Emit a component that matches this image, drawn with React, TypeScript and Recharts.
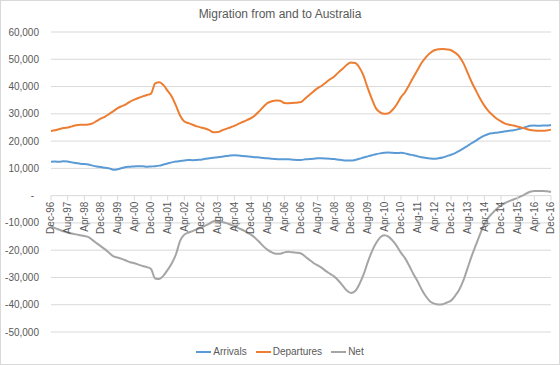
import { CartesianGrid, Legend, Line, LineChart, XAxis, YAxis } from "recharts";

const MONTH_NAMES = ["Jan", "Feb", "Mar", "Apr", "May", "Jun", "Jul", "Aug", "Sep", "Oct", "Nov", "Dec"];

// every second month, Dec-96 .. Dec-16
const periods: string[] = [];
for (let i = 0; i <= 120; i++) {
  const m = 11 + 2 * i;
  const yy = (96 + Math.floor(m / 12)) % 100;
  periods.push(`${MONTH_NAMES[m % 12]}-${String(yy).padStart(2, "0")}`);
}

const arrivals = [
  12400, 12500, 12400, 12600, 12500, 12200, 12000, 11700, 11600, 11400,
  11000, 10700, 10500, 10200, 10000, 9500, 9700, 10100, 10500, 10600,
  10700, 10800, 10800, 10600, 10700, 10800, 11000, 11400, 11800, 12200,
  12500, 12700, 12900, 13100, 13000, 13100, 13200, 13500, 13700, 13900,
  14100, 14300, 14500, 14700, 14800, 14700, 14500, 14400, 14300, 14100,
  14000, 13800, 13700, 13500, 13400, 13300, 13300, 13300, 13200, 13100,
  13100, 13300, 13400, 13500, 13700, 13700, 13600, 13500, 13400, 13200,
  13000, 12900, 12900, 13100, 13500, 14000, 14400, 14800, 15200, 15500,
  15700, 15800, 15700, 15600, 15700, 15500, 15100, 14800, 14400, 14100,
  13800, 13600, 13500, 13700, 14000, 14500, 15000, 15600, 16400, 17300,
  18300, 19300, 20200, 21200, 22000, 22600, 22900, 23100, 23300, 23600,
  23800, 24000, 24300, 24700, 25200, 25600, 25700, 25600, 25700, 25700,
  25900,
];

const departures = [
  23700, 24000, 24400, 24800, 25000, 25400, 25800, 26000, 26000, 26100,
  26500, 27400, 28300, 29000, 30000, 31000, 32100, 32800, 33500, 34500,
  35200, 35800, 36400, 36900, 37400, 41200, 41600, 40500, 38400, 36300,
  33000, 29300, 27200, 26600, 26000, 25400, 25000, 24600, 24000, 23200,
  23300, 23900, 24500, 25000, 25600, 26300, 27000, 27700, 28400, 29500,
  31000, 32600, 34000, 34600, 34900, 34800, 34000, 33900, 34000, 34100,
  34300, 35600, 36900, 38200, 39400, 40300, 41500, 42700, 43700, 45200,
  46500, 48000, 48800, 48600, 47000, 44000, 39500, 35500, 32000, 30500,
  30000, 30200, 31500, 33500, 36100, 38000, 40700, 43500, 46200, 48800,
  50800, 52300, 53300, 53700, 53800, 53600, 53300, 52400, 51000, 48500,
  45000, 41500, 38500, 35500, 33000, 31000, 29500, 28200, 27200, 26400,
  26000, 25700, 25300, 24900, 24500, 24100, 23900, 23800, 23800, 23900,
  24200,
];

const net = [
  -11200, -11900, -12500, -13100, -13600, -13900, -14200, -14500, -14800, -15200,
  -16300, -17500, -18600, -19700, -21000, -22300, -22700, -23200, -23800, -24400,
  -24800, -25300, -25800, -26200, -26900, -30400, -30600, -29300, -27200, -24800,
  -21500, -16500, -14300, -13500, -13000, -12300, -11800, -11000, -10300, -9400,
  -9200, -9600, -10000, -10600, -11200, -11900, -12600, -13400, -14300, -15500,
  -17000, -18600, -19900, -20800, -21300, -21300, -20800, -20600, -20800, -20900,
  -21200, -22300, -23500, -24700, -25600, -26500, -27700, -28700, -29700, -31200,
  -33000, -34800, -35700, -35000, -32500, -29000, -24500, -20500, -17500, -15300,
  -14500, -15000, -16500, -18500, -21000, -23000, -25800, -28800, -31500, -34500,
  -37000, -38800, -39600, -39900, -39800, -39200, -38500, -36700, -34400, -31000,
  -26500, -22000, -18000, -14000, -10500, -8000, -6300, -4800, -3600, -2700,
  -2000, -1400, -800, -100, 700, 1400, 1700, 1700, 1700, 1600,
  1300,
];

const yTicks = [-50000, -40000, -30000, -20000, -10000, 0, 10000, 20000, 30000, 40000, 50000, 60000];
const Y_MIN = -50000;
const Y_MAX = 60000;

const seriesNames = ["Arrivals", "Departures", "Net"];
const seriesColors = ["#5B9BD5", "#ED7D31", "#A5A5A5"];

const data = periods.map((period, i) => ({
  period,
  Arrivals: arrivals[i],
  Departures: departures[i],
  Net: net[i],
}));

const W = 560;
const H = 365;
const X_AXIS_H = 2;
const MARGIN = { top: 32, right: 9, bottom: 31, left: 0 };
const PLOT_H = H - MARGIN.top - MARGIN.bottom - X_AXIS_H;
// horizontal axis crosses at 0
const ZERO_Y = MARGIN.top + (PLOT_H * Y_MAX) / (Y_MAX - Y_MIN);

const FONT = "'Liberation Sans', Arial, sans-serif";
const TEXT = "#595959";
const GRID = "#d9d9d9";

function XTick(props: any) {
  const { x, payload } = props;
  const ty = ZERO_Y + 6;
  return (
    <g>
      <line x1={x} x2={x} y1={ZERO_Y} y2={ZERO_Y + 5} stroke={GRID} />
      <text
        x={x}
        y={ty}
        dy="0.35em"
        transform={`rotate(-90 ${x} ${ty})`}
        textAnchor="end"
        fontSize={10}
        fontFamily={FONT}
        fill={TEXT}
      >
        {payload.value}
      </text>
    </g>
  );
}

function YTick({ x, y, payload }: any) {
  const v = payload.value as number;
  return (
    <text
      x={v === 0 ? x - 5 : x}
      y={y}
      dy="0.355em"
      textAnchor="end"
      fontSize={10}
      fontFamily={FONT}
      fill={TEXT}
    >
      {v === 0 ? "-" : v.toLocaleString("en-US")}
    </text>
  );
}

function LegendContent() {
  return (
    <div
      style={{
        display: "flex",
        justifyContent: "center",
        fontFamily: FONT,
        fontSize: 10,
        lineHeight: "14px",
        color: TEXT,
      }}
    >
      {seriesNames.map((name, i) => (
        <div key={name} style={{ display: "flex", alignItems: "center", marginLeft: i === 0 ? 0 : 9 }}>
          <span style={{ display: "inline-block", width: 15, height: 2, background: seriesColors[i], marginRight: 2 }} />
          <span>{name}</span>
        </div>
      ))}
    </div>
  );
}

export default function App() {
  return (
    <div style={{ position: "absolute", left: 0, top: 0, width: W, height: H, background: "#fff" }}>
      <div
        style={{
          position: "absolute",
          top: 6,
          left: 0,
          width: W,
          textAlign: "center",
          fontFamily: FONT,
          fontSize: 12,
          lineHeight: "16px",
          color: TEXT,
        }}
      >
        Migration from and to Australia
      </div>
      <LineChart width={W} height={H} data={data} margin={MARGIN}>
        <CartesianGrid horizontal vertical={false} stroke={GRID} />
        <XAxis
          dataKey="period"
          height={X_AXIS_H}
          interval={3}
          axisLine={false}
          tickLine={false}
          tick={XTick}
        />
        <YAxis
          width={51}
          domain={[Y_MIN, Y_MAX]}
          ticks={yTicks}
          axisLine={false}
          tickLine={false}
          tickSize={0}
          tickMargin={12}
          tick={<YTick />}
        />
        <Legend
          layout="horizontal"
          verticalAlign="middle"
          align="center"
          wrapperStyle={{ top: 345, left: 0, width: W }}
          content={<LegendContent />}
        />
        {seriesNames.map((name, i) => (
          <Line
            key={name}
            type="monotone"
            dataKey={name}
            stroke={seriesColors[i]}
            strokeWidth={2}
            dot={false}
            isAnimationActive={false}
          />
        ))}
      </LineChart>
      <div
        style={{
          position: "absolute",
          left: 0,
          top: 0,
          width: W,
          height: H,
          boxSizing: "border-box",
          border: `1px solid ${GRID}`,
          pointerEvents: "none",
        }}
      />
    </div>
  );
}
